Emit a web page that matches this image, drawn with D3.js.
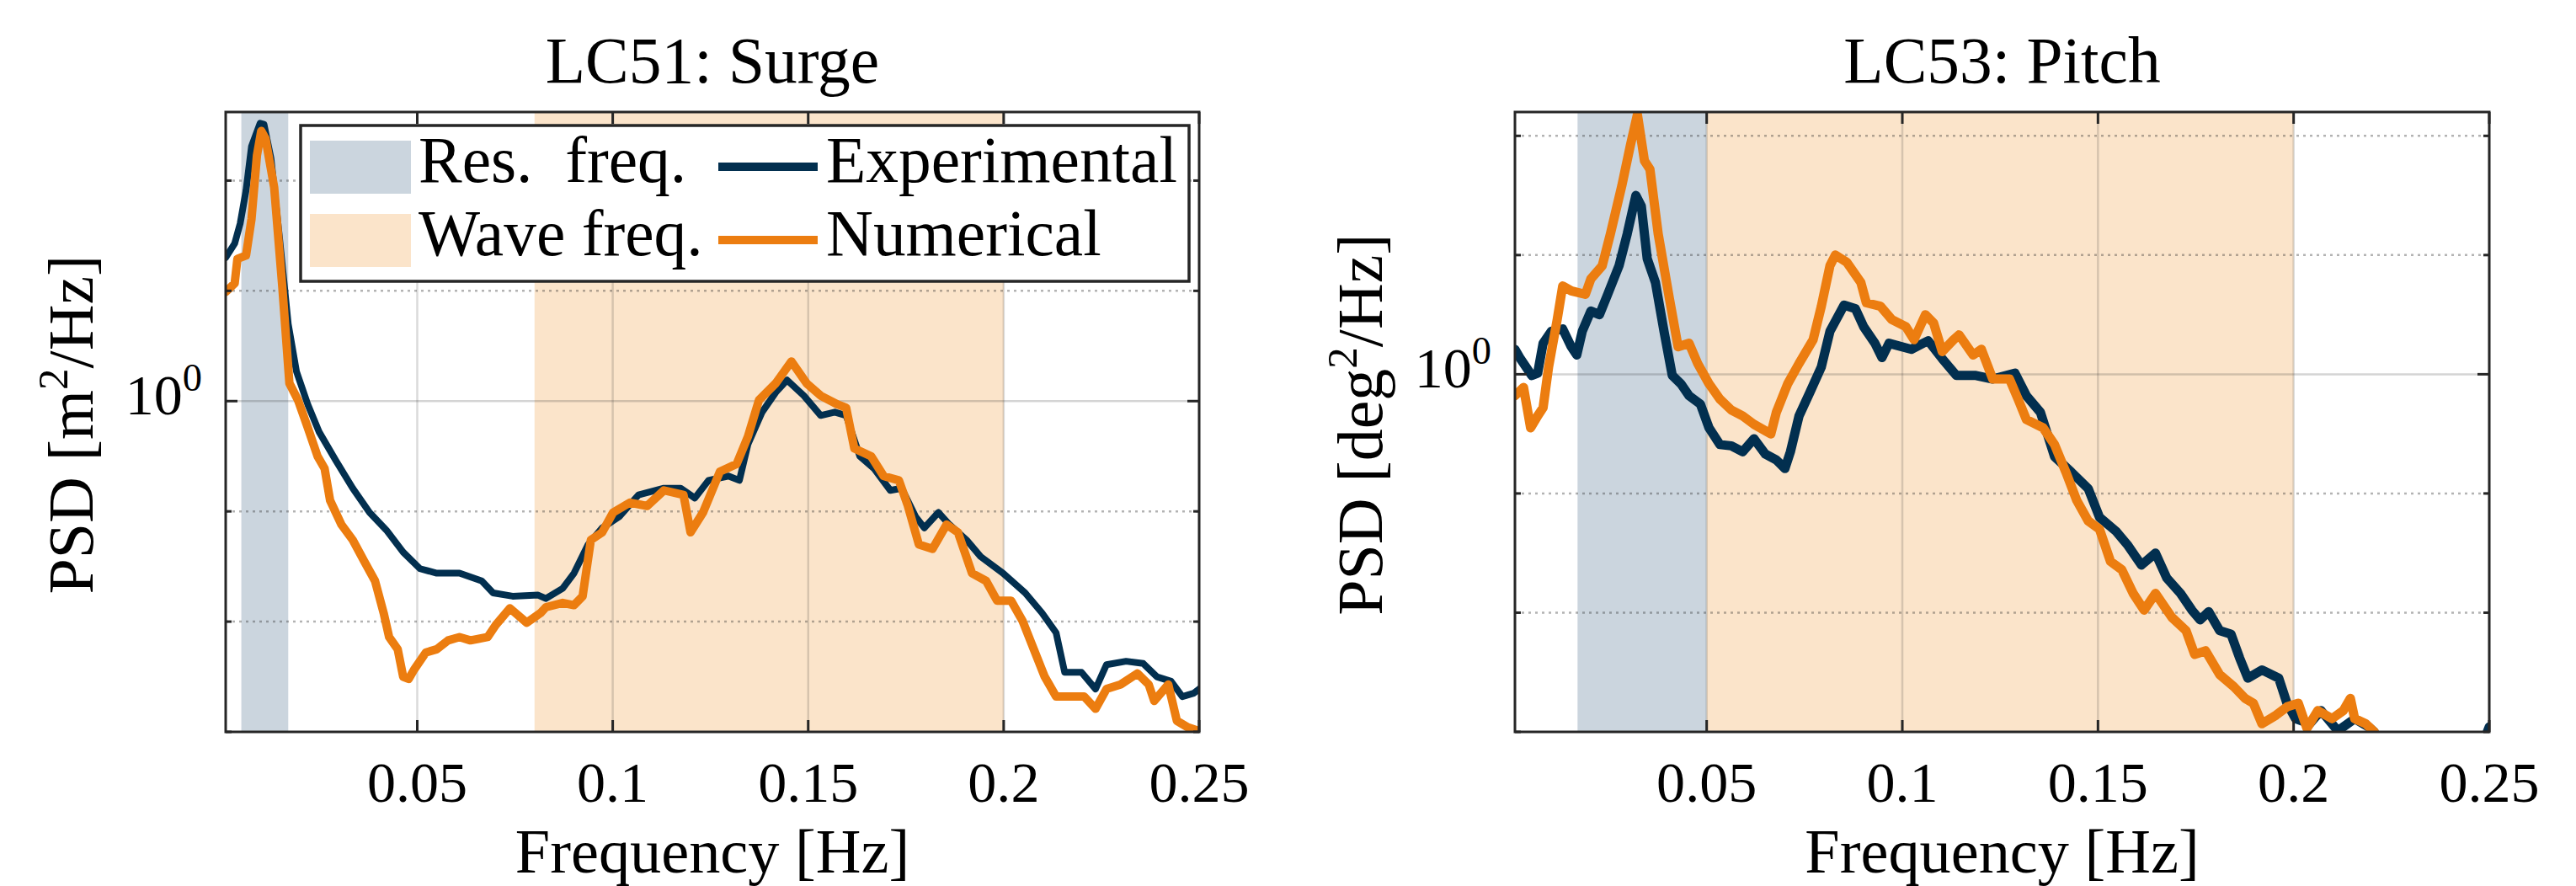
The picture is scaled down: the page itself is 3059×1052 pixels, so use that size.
<!doctype html>
<html>
<head>
<meta charset="utf-8">
<script src="https://cdn.jsdelivr.net/npm/d3@7"></script>
<style>
  body { margin: 0; background: #fff; }
</style>
</head>
<body>
<svg id="fig" width="3059" height="1052"></svg>
<script>
// ---- values ----
var xTicks = [0.05, 0.1, 0.15, 0.2, 0.25];
var xTickLabels = ["0.05", "0.1", "0.15", "0.2", "0.25"];
var yDecades = [1e-3, 1e-2, 1e-1, 1, 1e1, 1e2];

// LC51 surge
var surgeResBand = [0.005, 0.017];
var surgeWaveBand = [0.08, 0.2];
var surgeFreqExp = [0.001, 0.0033, 0.0047, 0.0062, 0.0076, 0.0098, 0.0108, 0.0126, 0.0148, 0.017,
  0.0191, 0.022, 0.0249, 0.0292, 0.0335, 0.0378, 0.0421, 0.0464, 0.0507, 0.055,
  0.0608, 0.0665, 0.0694, 0.0744, 0.0809, 0.0829, 0.0872, 0.0901, 0.0937, 0.0973,
  0.1016, 0.1066, 0.1131, 0.1174, 0.121, 0.1245, 0.1296, 0.1324, 0.1346, 0.1382,
  0.1417, 0.1446, 0.1489, 0.1532, 0.1568, 0.1597, 0.1632, 0.1668, 0.171, 0.1739,
  0.1775, 0.1797, 0.1833, 0.1861, 0.1905, 0.1941, 0.1998, 0.2055, 0.2098, 0.2134,
  0.2156, 0.2199, 0.2235, 0.2263, 0.2313, 0.2357, 0.2392, 0.2428, 0.2457, 0.2486, 0.25];
var surgePsdExp = [20.0, 26.9, 40.7, 81.3, 204, 331, 324, 158, 29.5, 5.01,
  1.86, 0.933, 0.525, 0.288, 0.162, 0.0977, 0.0676, 0.0427, 0.0302, 0.0275,
  0.0275, 0.0234, 0.0182, 0.0170, 0.0174, 0.0162, 0.0200, 0.0275, 0.0501, 0.0708,
  0.0891, 0.141, 0.162, 0.162, 0.132, 0.191, 0.209, 0.191, 0.407, 0.794,
  1.20, 1.55, 1.12, 0.741, 0.794, 0.741, 0.316, 0.245, 0.155, 0.162,
  0.0891, 0.0708, 0.0977, 0.0759, 0.0550, 0.0389, 0.0275, 0.0182, 0.0120, 0.00794,
  0.00347, 0.00347, 0.00245, 0.00407, 0.00437, 0.00417, 0.00316, 0.00288, 0.00209, 0.00224, 0.00245];
var surgeFreqNum = [0.001, 0.0033, 0.004, 0.0062, 0.0076, 0.009, 0.0101, 0.0112, 0.0134, 0.0155,
  0.0173, 0.0195, 0.022, 0.0245, 0.0263, 0.0277, 0.0306, 0.0335, 0.0364, 0.0392,
  0.0414, 0.0428, 0.045, 0.0464, 0.0478, 0.0493, 0.0522, 0.055, 0.0579, 0.0608,
  0.0636, 0.068, 0.0701, 0.0737, 0.078, 0.0816, 0.0829, 0.0872, 0.0901, 0.0923,
  0.0944, 0.0973, 0.1001, 0.1044, 0.1088, 0.1131, 0.1181, 0.1199, 0.1231, 0.1274,
  0.1317, 0.1346, 0.1374, 0.1417, 0.1457, 0.1496, 0.1532, 0.1575, 0.1597, 0.1618,
  0.1661, 0.1693, 0.1732, 0.1754, 0.1783, 0.1818, 0.1854, 0.1883, 0.1919, 0.1955,
  0.1983, 0.2019, 0.2048, 0.2077, 0.2105, 0.2134, 0.217, 0.2206, 0.2235, 0.2263,
  0.2299, 0.2342, 0.2371, 0.2385, 0.2421, 0.2443, 0.2471, 0.25];
var surgePsdNum = [9.77, 11.7, 19.5, 20.9, 44.7, 170, 282, 240, 87.1, 10.7,
  1.45, 1.02, 0.575, 0.316, 0.245, 0.126, 0.0759, 0.0550, 0.0355, 0.0234,
  0.0120, 0.00724, 0.00562, 0.00316, 0.00302, 0.00372, 0.00525, 0.00562, 0.00676, 0.00724,
  0.00676, 0.00724, 0.00933, 0.0132, 0.00977, 0.0120, 0.0135, 0.0148, 0.0141, 0.0170,
  0.0550, 0.0646, 0.0977, 0.120, 0.112, 0.155, 0.141, 0.0646, 0.0977, 0.229,
  0.269, 0.479, 1.02, 1.45, 2.29, 1.45, 1.12, 0.933, 0.871, 0.372,
  0.316, 0.209, 0.191, 0.115, 0.0501, 0.0457, 0.0759, 0.0646, 0.0275, 0.0234,
  0.0155, 0.0155, 0.0102, 0.00562, 0.00316, 0.00209, 0.00209, 0.00209, 0.00162, 0.00245,
  0.00269, 0.00339, 0.00269, 0.00191, 0.00269, 0.00126, 0.00110, 0.00102];

// LC53 pitch
var pitchResBand = [0.017, 0.05];
var pitchWaveBand = [0.05, 0.2];
var pitchFreqExp = [0.001, 0.0024, 0.0053, 0.0068, 0.0082, 0.0103, 0.0132, 0.0154, 0.0168, 0.0182,
  0.0204, 0.0226, 0.0247, 0.0276, 0.0297, 0.0319, 0.0333, 0.0348, 0.0369, 0.0391,
  0.0412, 0.0434, 0.0455, 0.0484, 0.0506, 0.0534, 0.0563, 0.0592, 0.0621, 0.065,
  0.0678, 0.07, 0.0714, 0.0736, 0.0764, 0.0793, 0.0815, 0.0851, 0.088, 0.0901,
  0.093, 0.0948, 0.0966, 0.1023, 0.1066, 0.1102, 0.1138, 0.1188, 0.1231, 0.1288,
  0.1317, 0.1353, 0.1389, 0.1432, 0.1475, 0.1504, 0.1547, 0.1575, 0.1611, 0.1647,
  0.1676, 0.1711, 0.174, 0.1761, 0.1783, 0.1811, 0.184, 0.1862, 0.1883, 0.1919,
  0.1962, 0.1983, 0.2005, 0.2041, 0.207, 0.2113, 0.2156, 0.2192, 0.2206, 0.223,
  0.248, 0.2495, 0.25];
var pitchPsdExp = [1.62, 1.35, 0.977, 1.02, 1.82, 2.29, 2.40, 1.70, 1.45, 2.29,
  3.39, 3.16, 4.68, 8.13, 15.1, 31.6, 25.7, 9.33, 5.89, 2.29,
  0.977, 0.832, 0.661, 0.562, 0.355, 0.257, 0.251, 0.224, 0.288, 0.214,
  0.191, 0.162, 0.224, 0.447, 0.708, 1.15, 2.29, 3.80, 3.55, 2.51,
  1.82, 1.38, 1.82, 1.62, 1.91, 1.35, 0.977, 0.977, 0.912, 1.02,
  0.661, 0.479, 0.204, 0.151, 0.110, 0.0631, 0.0479, 0.0372, 0.0251, 0.0316,
  0.0195, 0.0145, 0.0105, 0.00871, 0.0102, 0.00708, 0.00661, 0.00417, 0.00282, 0.00331,
  0.00282, 0.00174, 0.00129, 0.00117, 0.00151, 0.00102, 0.00129, 0.00110, 0.00100, 0.0004,
  0.0004, 0.00100, 0.00110];
var pitchFreqNum = [0.001, 0.0032, 0.005, 0.0068, 0.0082, 0.0096, 0.0118, 0.0132, 0.0154, 0.019,
  0.0204, 0.0233, 0.0254, 0.0283, 0.0305, 0.0323, 0.0341, 0.0355, 0.0376, 0.0405,
  0.0427, 0.0455, 0.0477, 0.0506, 0.0534, 0.0563, 0.0592, 0.0621, 0.0664, 0.0678,
  0.0707, 0.0736, 0.0772, 0.0793, 0.0815, 0.0829, 0.0858, 0.0894, 0.0908, 0.0944,
  0.0973, 0.1009, 0.103, 0.1059, 0.108, 0.1102, 0.1131, 0.1145, 0.1181, 0.1202,
  0.1231, 0.1274, 0.1296, 0.1317, 0.136, 0.1389, 0.1418, 0.1446, 0.1475, 0.1504,
  0.1532, 0.1561, 0.159, 0.1618, 0.1647, 0.1676, 0.1689, 0.1725, 0.1747, 0.1775,
  0.1811, 0.1847, 0.1876, 0.1897, 0.1919, 0.1955, 0.1983, 0.2012, 0.2034, 0.2062,
  0.2098, 0.2127, 0.2145, 0.2156, 0.2184, 0.2206, 0.223, 0.25];
var pitchPsdNum = [0.661, 0.776, 0.355, 0.447, 0.525, 1.15, 2.88, 5.50, 5.01, 4.68,
  6.31, 8.13, 15.1, 38.0, 83.2, 151, 61.7, 52.5, 15.1, 4.27,
  1.70, 1.82, 1.23, 0.832, 0.617, 0.501, 0.447, 0.380, 0.316, 0.479,
  0.832, 1.23, 1.95, 3.72, 8.13, 10.0, 8.71, 5.89, 3.98, 3.72,
  2.88, 2.51, 1.95, 3.16, 2.69, 1.55, 1.95, 2.14, 1.45, 1.62,
  0.912, 0.912, 0.617, 0.417, 0.355, 0.257, 0.151, 0.0871, 0.0589, 0.0501,
  0.0269, 0.0229, 0.0145, 0.0105, 0.0145, 0.0105, 0.00912, 0.00708, 0.00447, 0.00479,
  0.00302, 0.00240, 0.00191, 0.00174, 0.00117, 0.00138, 0.00162, 0.00174, 0.00107, 0.00151,
  0.00129, 0.00151, 0.00191, 0.00129, 0.00117, 0.00100, 0.0004, 0.0003];

// ---- pick a serif face that is really installed ----
var ctx = document.createElement("canvas").getContext("2d");
function widthIn(font) { ctx.font = font; return ctx.measureText("Experimental Wgq 0.15").width; }
var serifCandidates = ["Liberation Serif", "DejaVu Serif", "Noto Serif", "Tinos", "FreeSerif", "Times New Roman"];
var fontFace = "Liberation Sans";
var baseMono = widthIn("100px monospace");
var baseSans = widthIn("100px sans-serif");
for (var i = 0; i < serifCandidates.length; i++) {
  var w = widthIn("100px '" + serifCandidates[i] + "', monospace");
  if (Math.abs(w - baseMono) > 0.5 && Math.abs(w - baseSans) > 0.5) { fontFace = serifCandidates[i]; break; }
}
ctx.font = "100px '" + fontFace + "', sans-serif";
// scale text so "Experimental" spans the same 417 px as in the figure legend
var legendSize = 417 / (ctx.measureText("Experimental").width / 100);
function fs(k) { return legendSize * k; }

// ---- styling ----
var navy = "#022f4f", orange = "#ec7d10";
var resFill = "#cbd5de", waveFill = "#fbe4ca";
var axisColor = "#262626";
var plotTop = 133, plotBottom = 869;

var svg = d3.select("#fig");
svg.append("rect").attr("width", 3059).attr("height", 1052).attr("fill", "#fff");

var panels = [
  { id: "a", left: 268, right: 1424, yMax: Math.pow(10, 2.622), title: "LC51: Surge", unit: "m",
    res: surgeResBand, wave: surgeWaveBand,
    fExp: surgeFreqExp, pExp: surgePsdExp, fNum: surgeFreqNum, pNum: surgePsdNum,
    wExp: 8, wNum: 10, legend: true },
  { id: "b", left: 1799, right: 2956, yMax: Math.pow(10, 2.2), title: "LC53: Pitch", unit: "deg",
    res: pitchResBand, wave: pitchWaveBand,
    fExp: pitchFreqExp, pExp: pitchPsdExp, fNum: pitchFreqNum, pNum: pitchPsdNum,
    wExp: 11, wNum: 11, legend: false }
];

function label(sel) {
  return sel.append("text").style("font-family", "'" + fontFace + "', serif").attr("fill", "#000");
}

panels.forEach(function(p) {
  var x = d3.scaleLinear().domain([0.001, 0.25]).range([p.left, p.right]);
  var y = d3.scaleLog().domain([1e-3, p.yMax]).range([plotBottom, plotTop]);
  var g = svg.append("g");

  g.append("clipPath").attr("id", "clip-" + p.id)
    .append("rect")
      .attr("x", p.left).attr("y", plotTop)
      .attr("width", p.right - p.left).attr("height", plotBottom - plotTop);

  // frequency bands
  [[p.res, resFill], [p.wave, waveFill]].forEach(function(b) {
    g.append("rect")
      .attr("x", x(b[0][0])).attr("y", plotTop)
      .attr("width", x(b[0][1]) - x(b[0][0])).attr("height", plotBottom - plotTop)
      .attr("fill", b[1]);
  });

  // grid: vertical major, horizontal decades (1 solid, others dotted)
  xTicks.forEach(function(t) {
    g.append("line").attr("x1", x(t)).attr("x2", x(t))
      .attr("y1", plotTop).attr("y2", plotBottom)
      .attr("stroke", axisColor).attr("stroke-opacity", 0.17).attr("stroke-width", 2.5);
  });
  yDecades.forEach(function(v) {
    if (v <= 1e-3 || v > p.yMax) return;
    var ln = g.append("line").attr("x1", p.left).attr("x2", p.right)
      .attr("y1", y(v)).attr("y2", y(v))
      .attr("stroke", axisColor).attr("stroke-width", 2.5);
    if (v === 1) ln.attr("stroke-opacity", 0.2);
    else ln.attr("stroke-opacity", 0.35).attr("stroke-dasharray", "3,5");
  });

  // curves
  var line = d3.line().x(function(d) { return x(d[0]); }).y(function(d) { return y(d[1]); });
  var curves = g.append("g").attr("clip-path", "url(#clip-" + p.id + ")");
  curves.append("path").datum(d3.zip(p.fExp, p.pExp))
    .attr("d", line).attr("fill", "none").attr("stroke", navy)
    .attr("stroke-width", p.wExp).attr("stroke-linejoin", "round").attr("stroke-linecap", "round");
  curves.append("path").datum(d3.zip(p.fNum, p.pNum))
    .attr("d", line).attr("fill", "none").attr("stroke", orange)
    .attr("stroke-width", p.wNum).attr("stroke-linejoin", "round").attr("stroke-linecap", "round");

  // box
  g.append("rect").attr("x", p.left).attr("y", plotTop)
    .attr("width", p.right - p.left).attr("height", plotBottom - plotTop)
    .attr("fill", "none").attr("stroke", axisColor).attr("stroke-width", 3);

  // ticks (inward, mirrored)
  xTicks.forEach(function(t) {
    g.append("line").attr("x1", x(t)).attr("x2", x(t)).attr("y1", plotBottom).attr("y2", plotBottom - 14)
      .attr("stroke", axisColor).attr("stroke-width", 3);
    g.append("line").attr("x1", x(t)).attr("x2", x(t)).attr("y1", plotTop).attr("y2", plotTop + 14)
      .attr("stroke", axisColor).attr("stroke-width", 3);
  });
  yDecades.forEach(function(v) {
    if (v > p.yMax) return;
    var len = v === 1 ? 14 : 7;
    g.append("line").attr("x1", p.left).attr("x2", p.left + len).attr("y1", y(v)).attr("y2", y(v))
      .attr("stroke", axisColor).attr("stroke-width", 3);
    g.append("line").attr("x1", p.right).attr("x2", p.right - len).attr("y1", y(v)).attr("y2", y(v))
      .attr("stroke", axisColor).attr("stroke-width", 3);
  });

  // tick labels
  xTicks.forEach(function(t, i) {
    label(g).attr("x", x(t)).attr("y", 952)
      .attr("text-anchor", "middle").attr("font-size", fs(0.88)).text(xTickLabels[i]);
  });
  var yl = label(g).attr("x", p.left - 28).attr("y", y(1) + 16)
    .attr("text-anchor", "end").attr("font-size", fs(0.88));
  yl.append("tspan").text("10");
  yl.append("tspan").attr("font-size", fs(0.6)).attr("dy", -28).text("0");

  // titles and axis labels
  var cx = (p.left + p.right) / 2;
  label(g).attr("x", cx).attr("y", 98).attr("text-anchor", "middle")
    .attr("font-size", fs(1.0)).text(p.title);
  label(g).attr("x", cx).attr("y", 1036).attr("text-anchor", "middle")
    .attr("font-size", fs(0.96)).text("Frequency [Hz]");
  var lab = label(g)
    .attr("transform", "translate(" + (p.left - 158) + ",504) rotate(-90)")
    .attr("text-anchor", "middle").attr("font-size", fs(0.98));
  lab.append("tspan").text("PSD [" + p.unit);
  lab.append("tspan").attr("font-size", fs(0.66)).attr("dy", -30).text("2");
  lab.append("tspan").attr("dy", 30).text("/Hz]");

  // legend
  if (p.legend) {
    var lg = g.append("g");
    lg.append("rect").attr("x", 357).attr("y", 149).attr("width", 1055).attr("height", 185)
      .attr("fill", "#fff").attr("stroke", axisColor).attr("stroke-width", 3.5);
    var rows = [
      { fill: resFill, label: "Res.\u00a0 freq.", color: navy, name: "Experimental" },
      { fill: waveFill, label: "Wave freq.", color: orange, name: "Numerical" }
    ];
    rows.forEach(function(r, i) {
      var yc = 198 + i * 87;
      lg.append("rect").attr("x", 368).attr("y", yc - 31).attr("width", 120).attr("height", 63)
        .attr("fill", r.fill);
      label(lg).attr("x", 497).attr("y", yc + 18).attr("font-size", fs(1.0)).text(r.label);
      lg.append("line").attr("x1", 853).attr("x2", 971).attr("y1", yc).attr("y2", yc)
        .attr("stroke", r.color).attr("stroke-width", 10);
      label(lg).attr("x", 981).attr("y", yc + 18).attr("font-size", fs(1.0)).text(r.name);
    });
  }
});
</script>
</body>
</html>
